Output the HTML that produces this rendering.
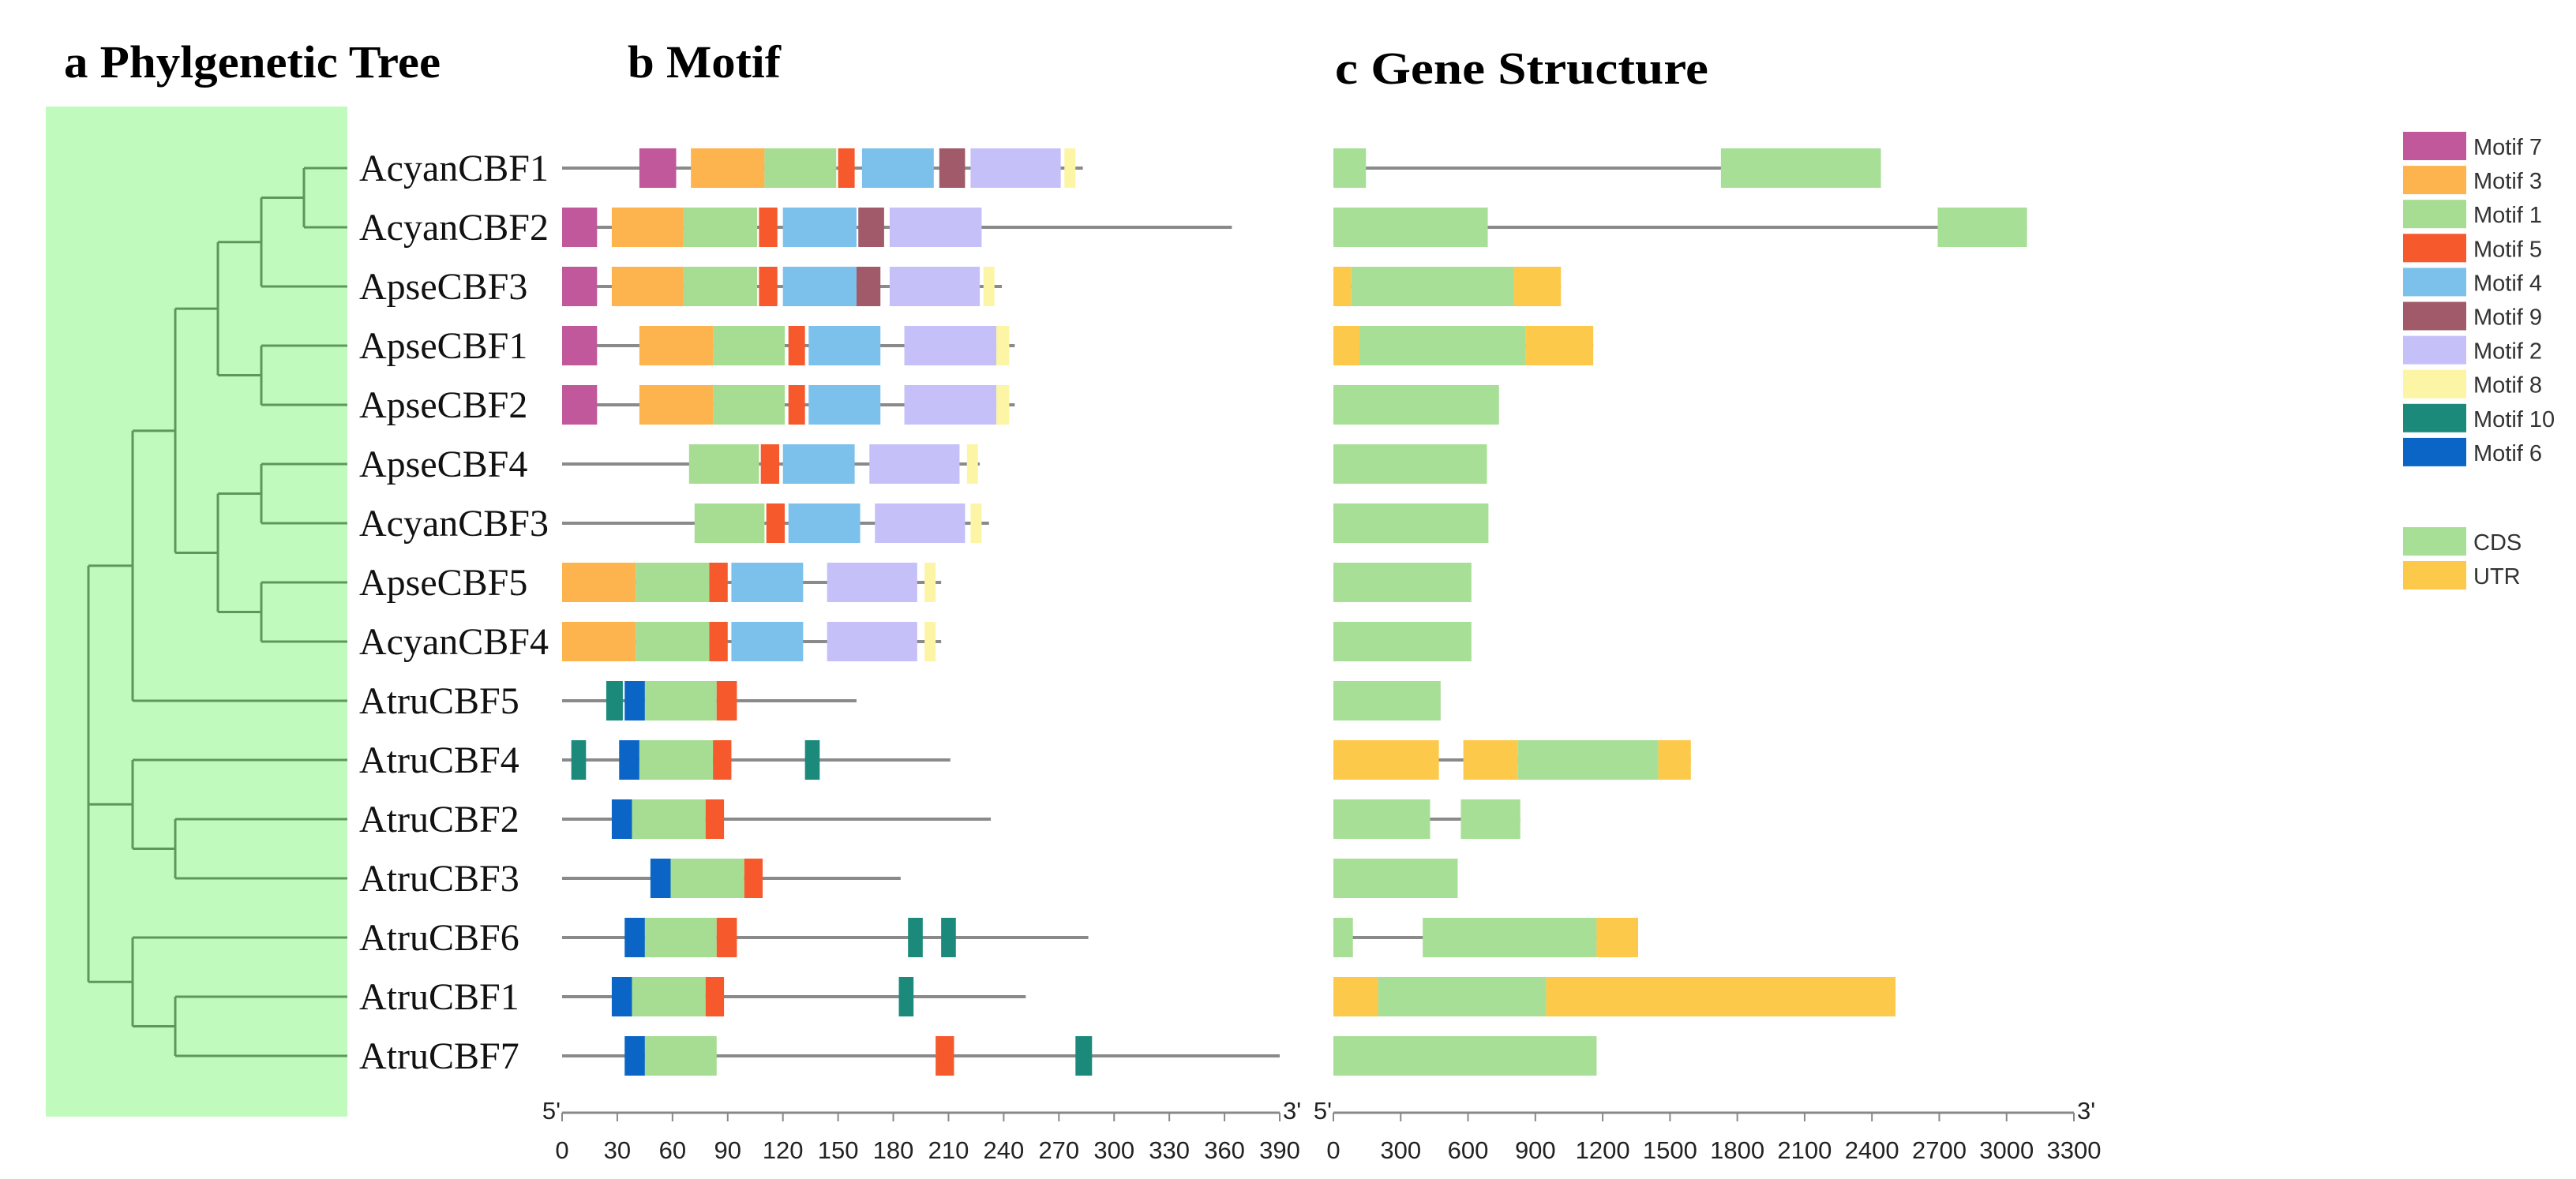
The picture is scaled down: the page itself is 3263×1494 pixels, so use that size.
<!DOCTYPE html>
<html><head><meta charset="utf-8"><style>
html,body{margin:0;padding:0;background:#fff;}
svg{display:block;}
</style></head><body>
<svg id="fig" width="3263" height="1494" viewBox="0 0 3263 1494" xmlns="http://www.w3.org/2000/svg">
<rect x="58" y="135" width="382" height="1280" fill="#c0fbbd"/>
<text x="81" y="98" font-family="Liberation Serif, serif" font-weight="bold" font-size="58" textLength="477" lengthAdjust="spacingAndGlyphs">a Phylgenetic Tree</text>
<text x="795" y="98" font-family="Liberation Serif, serif" font-weight="bold" font-size="58" textLength="194" lengthAdjust="spacingAndGlyphs">b Motif</text>
<text x="1691" y="106" font-family="Liberation Serif, serif" font-weight="bold" font-size="58" textLength="473" lengthAdjust="spacingAndGlyphs">c Gene Structure</text>
<g id="tree"></g>
<g id="labels"></g>
<g id="motifs"></g>
<g id="genes"></g>
<g id="axes"></g>
<g id="legend"></g>
</svg>
<script>
const genes = ["AcyanCBF1","AcyanCBF2","ApseCBF3","ApseCBF1","ApseCBF2","ApseCBF4","AcyanCBF3","ApseCBF5","AcyanCBF4","AtruCBF5","AtruCBF4","AtruCBF2","AtruCBF3","AtruCBF6","AtruCBF1","AtruCBF7"];
const proteinLengths = [283,364,239,246,246,227,232,206,206,160,211,233,184,286,252,390];
// motif hits: [motif number, start, end] per gene
const motifHits = [
 [[7,42,62],[3,70,110],[1,110,149],[5,150,159],[4,163,202],[9,205,219],[2,222,271],[8,273,279]],
 [[7,0,19],[3,27,66],[1,66,106],[5,107,117],[4,120,160],[9,161,175],[2,178,228]],
 [[7,0,19],[3,27,66],[1,66,106],[5,107,117],[4,120,160],[9,160,173],[2,178,227],[8,229,235]],
 [[7,0,19],[3,42,82],[1,82,121],[5,123,132],[4,134,173],[2,186,236],[8,236,243]],
 [[7,0,19],[3,42,82],[1,82,121],[5,123,132],[4,134,173],[2,186,236],[8,236,243]],
 [[1,69,107],[5,108,118],[4,120,159],[2,167,216],[8,220,226]],
 [[1,72,110],[5,111,121],[4,123,162],[2,170,219],[8,222,228]],
 [[3,0,40],[1,40,80],[5,80,90],[4,92,131],[2,144,193],[8,197,203]],
 [[3,0,40],[1,40,80],[5,80,90],[4,92,131],[2,144,193],[8,197,203]],
 [[10,24,33],[6,34,45],[1,45,84],[5,84,95]],
 [[10,5,13],[6,31,42],[1,42,82],[5,82,92],[10,132,140]],
 [[6,27,38],[1,38,78],[5,78,88]],
 [[6,48,59],[1,59,99],[5,99,109]],
 [[6,34,45],[1,45,84],[5,84,95],[10,188,196],[10,206,214]],
 [[6,27,38],[1,38,78],[5,78,88],[10,183,191]],
 [[6,34,45],[1,45,84],[5,203,213],[10,279,288]]
];
// gene structure features: [type, start, end] in bp
const geneFeatures = [
 [["CDS",0,145],["CDS",1727,2440]],
 [["CDS",0,688],["CDS",2693,3091]],
 [["UTR",0,80],["CDS",80,804],["UTR",804,1014]],
 [["UTR",0,116],["CDS",116,858],["UTR",858,1158]],
 [["CDS",0,738]],
 [["CDS",0,684]],
 [["CDS",0,691]],
 [["CDS",0,615]],
 [["CDS",0,615]],
 [["CDS",0,478]],
 [["UTR",0,470],["UTR",579,822],["CDS",822,1448],["UTR",1448,1593]],
 [["CDS",0,431],["CDS",568,833]],
 [["CDS",0,554]],
 [["CDS",0,87],["CDS",398,1173],["UTR",1173,1358]],
 [["UTR",0,199],["CDS",199,948],["UTR",948,2505]],
 [["CDS",0,1173]]
];
const motifTicks = [0,30,60,90,120,150,180,210,240,270,300,330,360,390];
const geneTicks = [0,300,600,900,1200,1500,1800,2100,2400,2700,3000,3300];
const legendMotifs = [7,3,1,5,4,9,2,8,10,6];
const legendStructure = ["CDS","UTR"];

const motifColors = {7:"#c1589b",3:"#fdb44e",1:"#a6dd93",5:"#f6592b",4:"#7cc1ec",9:"#a05a6a",2:"#c5c1f8",8:"#fcf5a6",10:"#1b8a7b",6:"#0b65c6"};
const featColors = {CDS:"#a8df96",UTR:"#fdc94b"};
const NS="http://www.w3.org/2000/svg";
function mk(tag, attrs, parent){const e=document.createElementNS(NS,tag);for(const k in attrs)e.setAttribute(k,attrs[k]);parent.appendChild(e);return e;}
const rowY = i => 213 + i*75.0;
const mX = v => 712 + v*(909/390);
const gX = v => 1689 + v*(938/3300);
const barH = 50;

// labels
const lg=document.getElementById('labels');
genes.forEach((g,i)=>{
  const t=mk('text',{x:455,y:rowY(i)+16,'font-family':'Liberation Serif, serif','font-size':48,fill:'#111'},lg);
  t.textContent=g;
  
  
});

// tree
const tg=document.getElementById('tree');
const tc="#5c985c", tw=3;
function hl(x1,x2,y){const l=mk('line',{x1:x1,x2:x2,y1:y,y2:y,stroke:tc,'stroke-width':tw},tg);
 
 }
function vl(x,y1,y2){const l=mk('line',{x1:x,x2:x,y1:y1,y2:y2,stroke:tc,'stroke-width':tw},tg);
 
 }
// node(x, children) ; child = leaf index or node
const treeSpec = {x:112,c:[
  {x:168,c:[{x:222,c:[{x:276,c:[{x:331,c:[{x:385,c:[0,1]},2]},{x:331,c:[3,4]}]},{x:276,c:[{x:331,c:[5,6]},{x:331,c:[7,8]}]}]},9]},
  {x:168,c:[10,{x:222,c:[11,12]}]},
  {x:168,c:[13,{x:222,c:[14,15]}]}
]};
function drawNode(n){
  const ys=n.c.map(ch=>{
    if(typeof ch==='number'){hl(n.x,440,rowY(ch));return rowY(ch);}
    const y=drawNode(ch);hl(n.x,ch.x,y);return y;});
  vl(n.x,Math.min(...ys),Math.max(...ys));
  return (Math.min(...ys)+Math.max(...ys))/2;
}
drawNode(treeSpec);

// motifs
const mg=document.getElementById('motifs');
genes.forEach((g,i)=>{
  const y=rowY(i);
  const l=mk('line',{x1:mX(0),x2:mX(proteinLengths[i]),y1:y,y2:y,stroke:'#8a8a8a','stroke-width':4},mg);
  
  
  motifHits[i].forEach(h=>{
    const r=mk('rect',{x:mX(h[1]),y:y-barH/2,width:mX(h[2])-mX(h[1]),height:barH,fill:motifColors[h[0]]},mg);
    
    
  });
});

// gene structure
const gg=document.getElementById('genes');
genes.forEach((g,i)=>{
  const y=rowY(i), f=geneFeatures[i];
  const end=f[f.length-1][2];
  if(f.length>1){
    const l=mk('line',{x1:gX(0),x2:gX(end),y1:y,y2:y,stroke:'#8a8a8a','stroke-width':4},gg);
    
    
  }
  f.forEach(ft=>{
    const r=mk('rect',{x:gX(ft[1]),y:y-barH/2,width:gX(ft[2])-gX(ft[1]),height:barH,fill:featColors[ft[0]]},gg);
    
    
  });
});

// axes
const ag=document.getElementById('axes');
function axis(sc,ticks,name){
  const y=1410;
  const l=mk('line',{x1:sc(ticks[0]),x2:sc(ticks[ticks.length-1]),y1:y,y2:y,stroke:'#888','stroke-width':3},ag);
  
  
  ticks.forEach(t=>{
    const tk=mk('line',{x1:sc(t),x2:sc(t),y1:y,y2:y+11,stroke:'#888','stroke-width':2},ag);
    
    
    const tx=mk('text',{x:sc(t),y:y+58,'text-anchor':'middle','font-family':'Liberation Sans, sans-serif','font-size':31,fill:'#222'},ag);
    tx.textContent=t;
    
    
  });
  const a=mk('text',{x:sc(ticks[0])-2,y:y+8,'text-anchor':'end','font-family':'Liberation Sans, sans-serif','font-size':31,fill:'#222'},ag);
  a.textContent="5'";
  
  
  const b=mk('text',{x:sc(ticks[ticks.length-1])+4,y:y+8,'font-family':'Liberation Sans, sans-serif','font-size':31,fill:'#222'},ag);
  b.textContent="3'";
  
  
}
axis(mX,motifTicks,'motif');
axis(gX,geneTicks,'gene');

// legend
const leg=document.getElementById('legend');
function legItem(y,color,label,name){
  const r=mk('rect',{x:3044,y:y,width:80,height:36,fill:color},leg);
  
  
  const t=mk('text',{x:3133,y:y+29,'font-family':'Liberation Sans, sans-serif','font-size':29,fill:'#333'},leg);
  t.textContent=label;
  
  
}
legendMotifs.forEach((m,k)=>legItem(167+k*43.1,motifColors[m],'Motif '+m,'legend-motif-'+m));
legendStructure.forEach((s,k)=>legItem(668+k*43,featColors[s],s,'legend-'+s.toLowerCase()));
</script>
</body></html>
